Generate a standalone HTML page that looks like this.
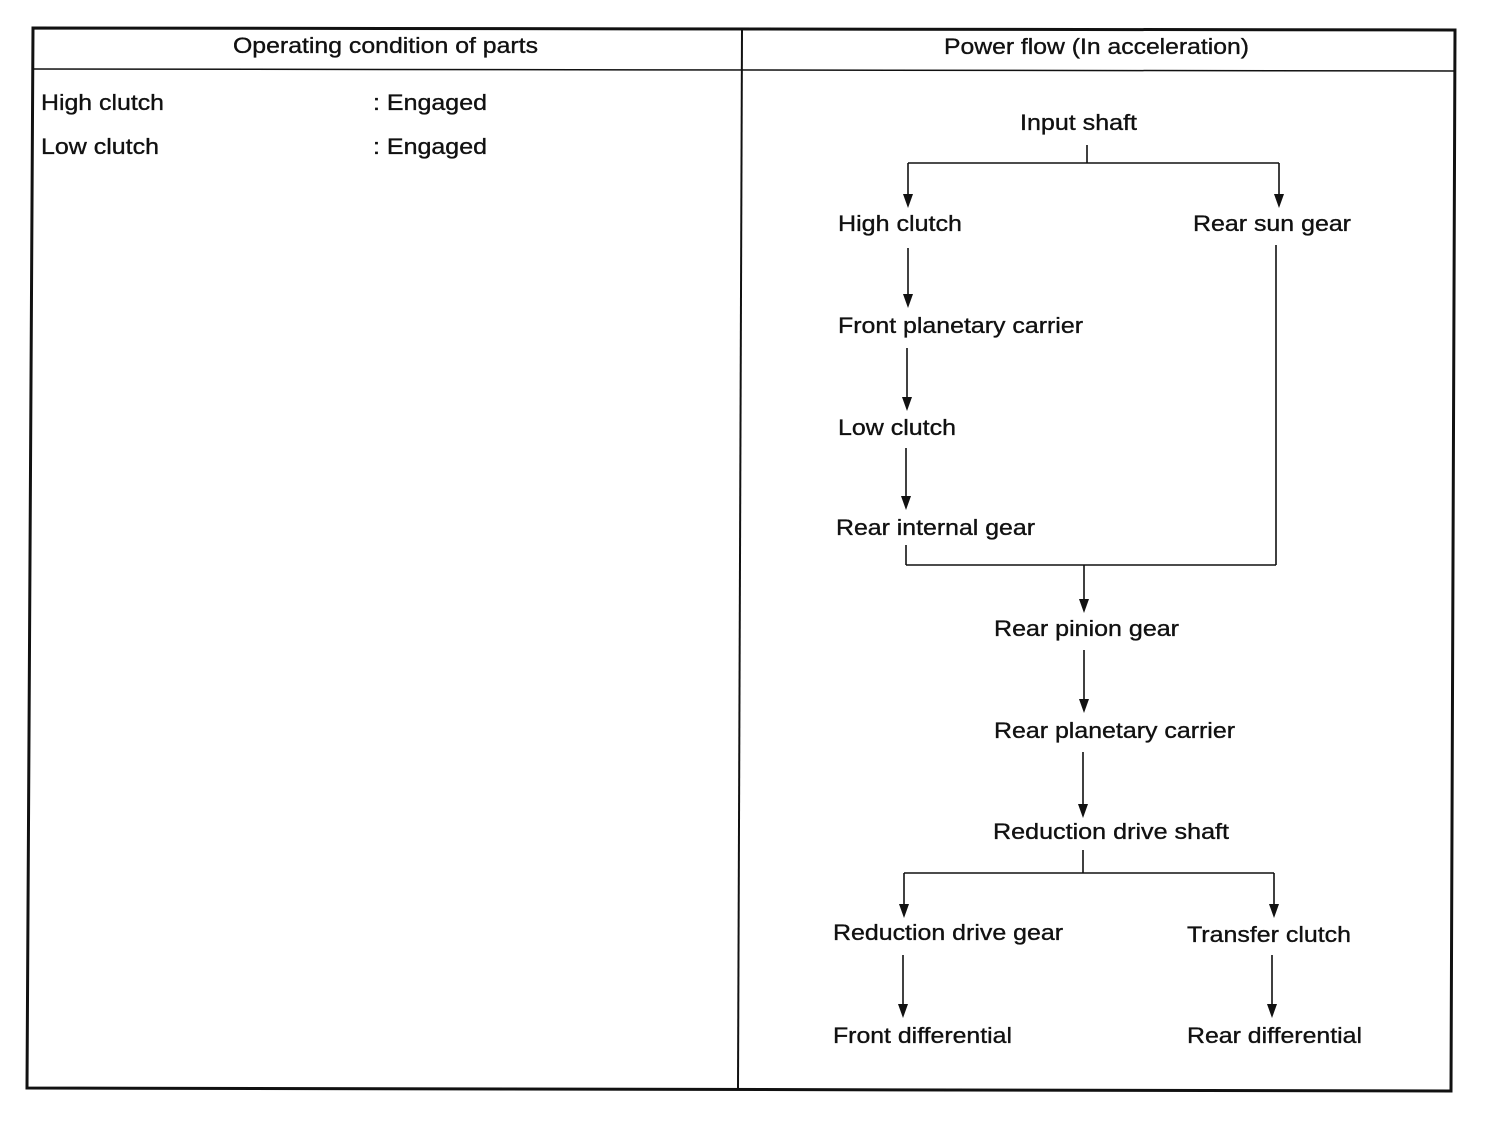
<!DOCTYPE html>
<html><head><meta charset="utf-8"><style>
html,body{margin:0;padding:0;background:#fff;}
svg{display:block;}
text{font-family:"Liberation Sans",Arial,sans-serif;font-size:22px;fill:#111;stroke:#111;stroke-width:0.35;}
</style></head><body>
<svg width="1504" height="1134" viewBox="0 0 1504 1134" xmlns="http://www.w3.org/2000/svg">
<g stroke="#111" fill="none">
<polygon points="33,28 1455,30 1451,1091 27,1088" stroke-width="3"/>
<line x1="33" y1="69" x2="1455" y2="71" stroke-width="1.5"/>
<line x1="742" y1="29" x2="738" y2="1089" stroke-width="2"/>
<g stroke-width="1.6">
<line x1="1087" y1="145" x2="1087" y2="163"/>
<line x1="908" y1="163" x2="1279" y2="163"/>
<line x1="908" y1="163" x2="908" y2="196"/>
<line x1="1279" y1="163" x2="1279" y2="196"/>
<line x1="908" y1="248" x2="908" y2="296"/>
<line x1="907" y1="348" x2="907" y2="399"/>
<line x1="906" y1="448" x2="906" y2="498"/>
<line x1="906" y1="545" x2="906" y2="565"/>
<line x1="906" y1="565" x2="1276" y2="565"/>
<line x1="1276" y1="245" x2="1276" y2="565"/>
<line x1="1084" y1="565" x2="1084" y2="601"/>
<line x1="1084" y1="650" x2="1084" y2="701"/>
<line x1="1083" y1="752" x2="1083" y2="806"/>
<line x1="1083" y1="850" x2="1083" y2="873"/>
<line x1="904" y1="873" x2="1274" y2="873"/>
<line x1="904" y1="873" x2="904" y2="906"/>
<line x1="1274" y1="873" x2="1274" y2="906"/>
<line x1="903" y1="955" x2="903" y2="1006"/>
<line x1="1272" y1="955" x2="1272" y2="1006"/>
</g></g>
<g fill="#111">
<path d="M903,194 L913,194 L908,208 Z"/>
<path d="M1274,194 L1284,194 L1279,208 Z"/>
<path d="M903,294 L913,294 L908,308 Z"/>
<path d="M902,397 L912,397 L907,411 Z"/>
<path d="M901,496 L911,496 L906,510 Z"/>
<path d="M1079,599 L1089,599 L1084,613 Z"/>
<path d="M1079,699 L1089,699 L1084,713 Z"/>
<path d="M1078,804 L1088,804 L1083,818 Z"/>
<path d="M899,904 L909,904 L904,918 Z"/>
<path d="M1269,904 L1279,904 L1274,918 Z"/>
<path d="M898,1004 L908,1004 L903,1018 Z"/>
<path d="M1267,1004 L1277,1004 L1272,1018 Z"/>
</g>
<text x="233" y="53" textLength="305" lengthAdjust="spacingAndGlyphs">Operating condition of parts</text>
<text x="944" y="54" textLength="305" lengthAdjust="spacingAndGlyphs">Power flow (In acceleration)</text>
<text x="41" y="110" textLength="123" lengthAdjust="spacingAndGlyphs">High clutch</text>
<text x="373" y="110" textLength="114" lengthAdjust="spacingAndGlyphs">: Engaged</text>
<text x="41" y="154" textLength="118" lengthAdjust="spacingAndGlyphs">Low clutch</text>
<text x="373" y="154" textLength="114" lengthAdjust="spacingAndGlyphs">: Engaged</text>
<text x="1020" y="130" textLength="117" lengthAdjust="spacingAndGlyphs">Input shaft</text>
<text x="838" y="231" textLength="124" lengthAdjust="spacingAndGlyphs">High clutch</text>
<text x="1193" y="231" textLength="158" lengthAdjust="spacingAndGlyphs">Rear sun gear</text>
<text x="838" y="333" textLength="245" lengthAdjust="spacingAndGlyphs">Front planetary carrier</text>
<text x="838" y="435" textLength="118" lengthAdjust="spacingAndGlyphs">Low clutch</text>
<text x="836" y="535" textLength="199" lengthAdjust="spacingAndGlyphs">Rear internal gear</text>
<text x="994" y="636" textLength="185" lengthAdjust="spacingAndGlyphs">Rear pinion gear</text>
<text x="994" y="738" textLength="241" lengthAdjust="spacingAndGlyphs">Rear planetary carrier</text>
<text x="993" y="839" textLength="236" lengthAdjust="spacingAndGlyphs">Reduction drive shaft</text>
<text x="833" y="940" textLength="230" lengthAdjust="spacingAndGlyphs">Reduction drive gear</text>
<text x="1187" y="942" textLength="164" lengthAdjust="spacingAndGlyphs">Transfer clutch</text>
<text x="833" y="1043" textLength="179" lengthAdjust="spacingAndGlyphs">Front differential</text>
<text x="1187" y="1043" textLength="175" lengthAdjust="spacingAndGlyphs">Rear differential</text>
</svg>
</body></html>
